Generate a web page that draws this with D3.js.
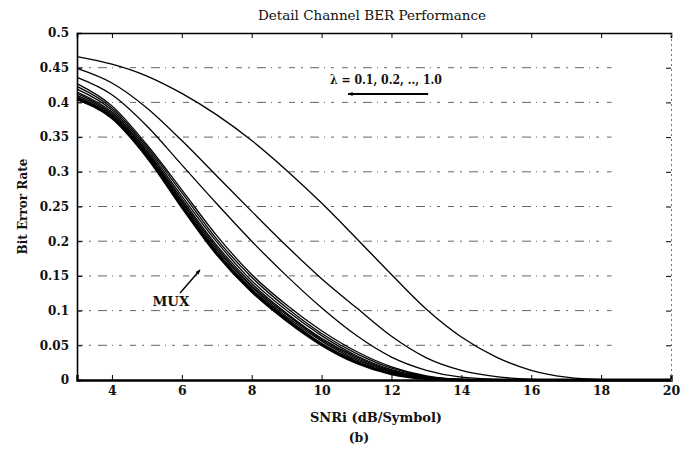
<!DOCTYPE html>
<html>
<head>
<meta charset="utf-8">
<script src="https://cdn.jsdelivr.net/npm/d3@7"></script>
<style>
  body { margin: 0; background: #fff; }
  svg { display: block; }
  text { font-family: "DejaVu Serif", "Liberation Serif", serif; fill: #111; }
</style>
</head>
<body>
<div id="chart"></div>
<script>
// SNR points (dB/symbol)
var snr = [3, 4, 5, 6, 7, 8, 9, 10, 11, 12, 13, 14, 15, 16, 17, 18, 19, 20];

// BER curves, top curve first (lambda = 0.1 .. 1.0), then MUX
var berL1  = [0.466, 0.455, 0.438, 0.413, 0.382, 0.345, 0.302, 0.255, 0.204, 0.152, 0.102, 0.062, 0.033, 0.014, 0.004, 0.0005, 0, 0];
var berL2  = [0.449, 0.428, 0.392, 0.345, 0.294, 0.243, 0.193, 0.146, 0.104, 0.063, 0.032, 0.014, 0.005, 0.001, 0, 0, 0, 0];
var berL3  = [0.436, 0.411, 0.366, 0.310, 0.254, 0.200, 0.150, 0.104, 0.064, 0.033, 0.014, 0.004, 0.001, 0, 0, 0, 0, 0];
var berL4  = [0.427, 0.395, 0.339, 0.274, 0.208, 0.152, 0.108, 0.071, 0.041, 0.019, 0.006, 0.001, 0, 0, 0, 0, 0, 0];
var berL5  = [0.423, 0.392, 0.336, 0.270, 0.203, 0.148, 0.104, 0.067, 0.038, 0.017, 0.005, 0.001, 0, 0, 0, 0, 0, 0];
var berL6  = [0.419, 0.389, 0.333, 0.265, 0.199, 0.143, 0.100, 0.064, 0.035, 0.015, 0.0046, 0.0006, 0, 0, 0, 0, 0, 0];
var berL7  = [0.415, 0.386, 0.330, 0.261, 0.194, 0.139, 0.096, 0.060, 0.033, 0.0137, 0.004, 0.0005, 0, 0, 0, 0, 0, 0];
var berL8  = [0.413, 0.384, 0.328, 0.258, 0.191, 0.136, 0.094, 0.058, 0.031, 0.0125, 0.0034, 0.0003, 0, 0, 0, 0, 0, 0];
var berL9  = [0.410, 0.382, 0.326, 0.256, 0.188, 0.134, 0.091, 0.056, 0.029, 0.0113, 0.003, 0.0002, 0, 0, 0, 0, 0, 0];
var berL10 = [0.408, 0.380, 0.324, 0.253, 0.185, 0.131, 0.089, 0.053, 0.027, 0.010, 0.0025, 0, 0, 0, 0, 0, 0, 0];
var berMux = [0.405, 0.378, 0.322, 0.250, 0.182, 0.128, 0.086, 0.051, 0.025, 0.009, 0.002, 0, 0, 0, 0, 0, 0, 0];

var xTicks = [4, 6, 8, 10, 12, 14, 16, 18, 20];
var yTicks = [0, 0.05, 0.1, 0.15, 0.2, 0.25, 0.3, 0.35, 0.4, 0.45, 0.5];
var yTickLabels = ["0", "0.05", "0.1", "0.15", "0.2", "0.25", "0.3", "0.35", "0.4", "0.45", "0.5"];

var width = 693, height = 459;
var margin = {top: 33, right: 22, bottom: 79, left: 77};

var svg = d3.select("#chart").append("svg")
    .attr("width", width)
    .attr("height", height);

var x = d3.scaleLinear().domain([3, 20]).range([margin.left, width - margin.right]);
var y = d3.scaleLinear().domain([0, 0.5]).range([height - margin.bottom, margin.top]);
var midX = (x(3) + x(20)) / 2;

// broken dashed grid lines
svg.append("g")
    .selectAll("line")
    .data(yTicks.filter(function(d) { return d > 0 && d < 0.5; }))
    .enter().append("line")
    .attr("x1", x(3))
    .attr("x2", x(18.3))
    .attr("y1", function(d) { return y(d); })
    .attr("y2", function(d) { return y(d); })
    .attr("stroke", "#555")
    .attr("stroke-width", 0.9)
    .attr("stroke-dasharray", "6,6,2,7,9,5,1,6,3,8");

// curves
var lineGen = d3.line()
    .x(function(d) { return x(d[0]); })
    .y(function(d) { return y(d[1]); })
    .curve(d3.curveMonotoneX);

var thin = [berL1, berL2, berL3, berL4, berL5, berL6, berL7, berL8, berL9, berL10];

svg.append("g")
    .selectAll("path")
    .data(thin)
    .enter().append("path")
    .attr("d", function(s) { return lineGen(d3.zip(snr, s)); })
    .attr("fill", "none")
    .attr("stroke", "#000")
    .attr("stroke-width", 1.3);

svg.append("path")
    .attr("d", lineGen(d3.zip(snr, berMux)))
    .attr("fill", "none")
    .attr("stroke", "#000")
    .attr("stroke-width", 3);

// axes, ticks pointing inward
svg.append("g")
    .attr("transform", "translate(0," + y(0) + ")")
    .call(d3.axisBottom(x).tickValues(xTicks).tickSize(-5).tickPadding(6).tickFormat(d3.format("d")))
    .call(function(g) {
      g.select(".domain").attr("stroke-width", 2.4);
      g.selectAll("text").attr("font-size", 12.5).attr("font-weight", "bold").attr("fill", "#111");
    });

svg.append("g")
    .attr("transform", "translate(0," + y(0.5) + ")")
    .call(d3.axisTop(x).tickValues(xTicks).tickSize(-5).tickFormat(""))
    .call(function(g) { g.select(".domain").attr("stroke-width", 1.6); });

svg.append("g")
    .attr("transform", "translate(" + x(3) + ",0)")
    .call(d3.axisLeft(y).tickValues(yTicks).tickSize(-5).tickPadding(8)
      .tickFormat(function(d, i) { return yTickLabels[i]; }))
    .call(function(g) {
      g.select(".domain").attr("stroke-width", 1.6);
      g.selectAll("text").attr("font-size", 12).attr("font-weight", "bold").attr("fill", "#111");
    });

svg.append("g")
    .attr("transform", "translate(" + x(20) + ",0)")
    .call(d3.axisRight(y).tickValues(yTicks).tickSize(-5).tickFormat(""))
    .call(function(g) {
      g.select(".domain").attr("stroke-width", 0.9).attr("stroke-dasharray", "2,3").attr("stroke", "#666");
    });

// title and axis labels
svg.append("text")
    .attr("x", midX - 2)
    .attr("y", 20)
    .attr("text-anchor", "middle")
    .attr("font-size", 13.5)
    .text("Detail Channel BER Performance");

svg.append("text")
    .attr("transform", "translate(27," + y(0.25) + ") rotate(-90)")
    .attr("text-anchor", "middle")
    .attr("font-size", 12)
    .attr("font-weight", "bold")
    .text("Bit Error Rate");

svg.append("text")
    .attr("x", midX + 2)
    .attr("y", 422)
    .attr("text-anchor", "middle")
    .attr("font-size", 13)
    .attr("font-weight", "bold")
    .text("SNRi (dB/Symbol)");

svg.append("text")
    .attr("x", midX - 15)
    .attr("y", 442)
    .attr("text-anchor", "middle")
    .attr("font-size", 12.5)
    .attr("font-weight", "bold")
    .text("(b)");

// lambda annotation
svg.append("text")
    .attr("x", x(10.24))
    .attr("y", y(0.4265))
    .attr("font-size", 13)
    .attr("font-weight", "bold")
    .attr("textLength", 112)
    .attr("lengthAdjust", "spacingAndGlyphs")
    .text("λ = 0.1, 0.2, .., 1.0");

svg.append("defs").append("marker")
    .attr("id", "head")
    .attr("viewBox", "0 0 10 10")
    .attr("refX", 9).attr("refY", 5)
    .attr("markerUnits", "userSpaceOnUse")
    .attr("markerWidth", 8).attr("markerHeight", 5)
    .attr("orient", "auto")
    .append("path")
    .attr("d", "M0,1 L10,5 L0,9 Z")
    .attr("fill", "#000");

svg.append("line")
    .attr("x1", x(13.05)).attr("y1", y(0.412))
    .attr("x2", x(10.76)).attr("y2", y(0.412))
    .attr("stroke", "#000")
    .attr("stroke-width", 2)
    .attr("marker-end", "url(#head)");

// MUX annotation
svg.append("text")
    .attr("x", x(5.69))
    .attr("y", y(0.1066))
    .attr("text-anchor", "middle")
    .attr("font-size", 13.5)
    .attr("font-weight", "bold")
    .attr("textLength", 37)
    .attr("lengthAdjust", "spacingAndGlyphs")
    .text("MUX");

svg.append("line")
    .attr("x1", x(5.95)).attr("y1", y(0.1254))
    .attr("x2", x(6.52)).attr("y2", y(0.1585))
    .attr("stroke", "#000")
    .attr("stroke-width", 1.4)
    .attr("marker-end", "url(#head)");
</script>
</body>
</html>
